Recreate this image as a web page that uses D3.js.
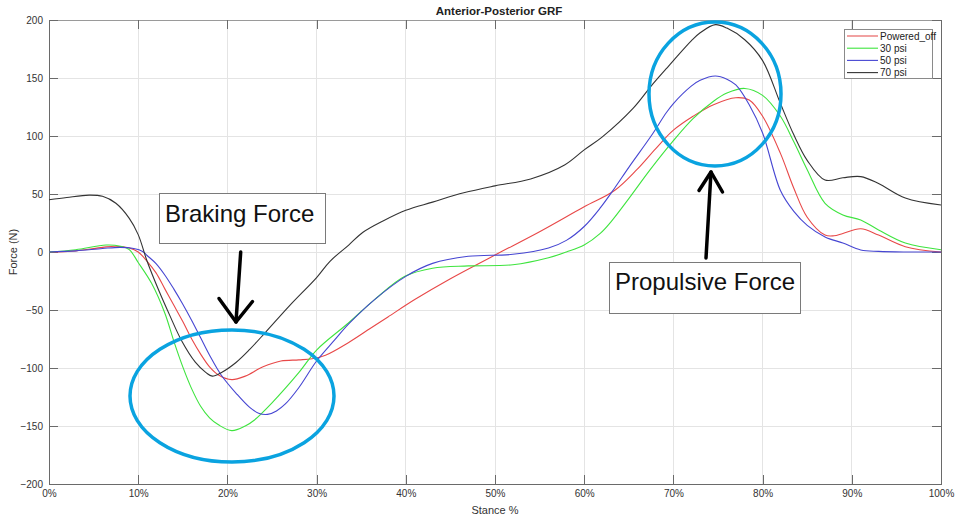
<!DOCTYPE html>
<html><head><meta charset="utf-8">
<script src="https://cdn.jsdelivr.net/npm/d3@7"></script>
<style>body{margin:0;background:#fff;}svg{display:block;font-family:"Liberation Sans",Arial,sans-serif;}</style>
</head><body>
<svg id="c" width="959" height="521"></svg>
<script>
const title = "Anterior-Posterior GRF";
const xLabel = "Stance %";
const yLabel = "Force (N)";
const xTicks = [0,10,20,30,40,50,60,70,80,90,100];
const yTicks = [-200,-150,-100,-50,0,50,100,150,200];
const seriesNames = ["Powered_off","30 psi","50 psi","70 psi"];

const offX = [0,3,6,7.5,9,10,11,12,13,14,15,16,17,18,19,20.5,22,24,26,28,29.5,31,33.6,36,38,41,45,50,55,60,63.4,65.9,68,70,72.2,74.5,77,78.5,80,82,83.5,85,87,88,89,91,93,96,100];
const offY = [0,1,4,5,3.5,0,-8,-18,-32,-46,-60,-75,-88,-99,-106,-110,-107,-99,-94,-93,-92,-89,-78,-66,-56,-41,-23,-2.6,17.5,39,53,71,89,105,117,127,133,131,117,85,55,30,14.6,14,16,20,14.6,4.6,0];

const p30X = [0,3,6.4,8,9,10,11.5,13,14,15,16,17,18,19,20.5,22,23,25,28,30,33.6,36.5,39.9,43,47,52,56,58,60,61.8,63,65,67.4,70,72.2,74.5,76,78,80,82,83.5,85,87,89,91,93,96,100];
const p30Y = [0,2,6,5,2,-9,-27,-53,-77,-99,-118,-133,-143,-149,-154,-150,-145,-130,-104,-84.5,-61,-41,-21,-14,-12,-11,-5,0,6,16,26,46,71,96,115,130,137,141,135,117,95,71,42,32,27.6,19,7.7,2];

const p50X = [0,3,6,8,9.5,10.5,11,12,13,14,15,16,17,18,19.3,21,22.5,23.5,24.5,25.5,26.5,28,30,32,33.6,36.5,40,43,47,52,56,58,60,61.8,63.4,65,67.5,69.2,70,72,73,74.7,76,77,78.5,80,82,83.5,85,87,89,91,93,96,100];
const p50Y = [0,1,3,4,3,0.5,-3,-10,-20,-32,-45,-59,-74,-89,-106,-122,-134,-139,-140,-137,-131,-117,-94,-76,-62,-41,-21,-9.8,-3.7,-2,3.4,10,22,38,55,73,100,120,128,143,148,151.7,149,144,127,102.6,53,35,23,13,7.7,1.7,0.5,0,0];

const p70X = [0,2,4.5,6,7.5,9,10,11,12.3,13.5,14.9,16.4,17.6,18.3,19.3,21,22.5,24.3,27,30,31.5,33.6,35.2,37.5,40,43,46.5,50,54,57.8,60,62,65.5,67.5,69.2,70,72,73,74.7,76,78,80,82,83.5,85,87,89,91,93,96,100];
const p70Y = [45,47,49,48,42,29,15,-8,-33,-54,-77,-95,-104,-107,-104,-95,-84,-69,-46,-22,-8,6,17,27,36,43,51,57,63,75,88,99,124,143,158,165,182,189,196,193,183,165,128,101,79,62,64,65,59,46.5,40.5];

const colors = ["#e84848","#3ee43e","#4646d2","#333333"];

const svg = d3.select("#c");
const L=49,R=941,T=20,B=484;
const x = d3.scaleLinear().domain([0,100]).range([L,R]);
const y = d3.scaleLinear().domain([-200,200]).range([B,T]);

// grid
svg.append("g").selectAll("line").data(xTicks.slice(1,-1)).join("line")
  .attr("x1",d=>x(d)).attr("x2",d=>x(d)).attr("y1",T).attr("y2",B)
  .attr("stroke","#e4e4e4").attr("stroke-width",1).attr("shape-rendering","crispEdges");
svg.append("g").selectAll("line").data(yTicks.slice(1,-1)).join("line")
  .attr("y1",d=>y(d)).attr("y2",d=>y(d)).attr("x1",L).attr("x2",R)
  .attr("stroke","#e4e4e4").attr("stroke-width",1).attr("shape-rendering","crispEdges");

// axes
const ax = "#6a6a6a";
const xb = svg.append("g").attr("transform",`translate(0,${B})`)
  .call(d3.axisBottom(x).tickValues(xTicks).tickFormat(d=>d+"%").tickSizeInner(-9).tickSizeOuter(0).tickPadding(6));
const xt = svg.append("g").attr("transform",`translate(0,${T})`)
  .call(d3.axisTop(x).tickValues(xTicks).tickFormat("").tickSizeInner(-9).tickSizeOuter(0));
const yl = svg.append("g").attr("transform",`translate(${L},0)`)
  .call(d3.axisLeft(y).tickValues(yTicks).tickSizeInner(-9).tickSizeOuter(0).tickPadding(6));
const yr = svg.append("g").attr("transform",`translate(${R},0)`)
  .call(d3.axisRight(y).tickValues(yTicks).tickFormat("").tickSizeInner(-9).tickSizeOuter(0));
[xb,xt,yl,yr].forEach(g=>{
  g.select(".domain").attr("stroke",ax).attr("shape-rendering","crispEdges");
  g.selectAll(".tick line").attr("stroke",ax).attr("shape-rendering","crispEdges");
  g.selectAll("text").attr("fill","#333").attr("font-size",10).attr("font-family","Liberation Sans, Arial, sans-serif");
});
xt.select(".domain").attr("stroke","#9a9a9a");

// lines
const line = d3.line().x(d=>x(d[0])).y(d=>y(d[1])).curve(d3.curveCatmullRom.alpha(0.5));
const sets = [[offX,offY],[p30X,p30Y],[p50X,p50Y],[p70X,p70Y]];
sets.forEach((s,i)=>{
  const pts = s[0].map((v,j)=>[v,s[1][j]]);
  svg.append("path").datum(pts).attr("d",line).attr("fill","none")
    .attr("stroke",colors[i]).attr("stroke-width",1.1);
});

// labels
svg.append("text").attr("x",499).attr("y",15).attr("text-anchor","middle")
  .attr("font-size",11.5).attr("font-weight","bold").attr("fill","#222").text(title);
svg.append("text").attr("x",495).attr("y",514).attr("text-anchor","middle")
  .attr("font-size",11).attr("fill","#333").text(xLabel);
svg.append("text").attr("transform","translate(17,252) rotate(-90)").attr("text-anchor","middle")
  .attr("font-size",11).attr("fill","#333").text(yLabel);

// legend
const lg = svg.append("g");
lg.append("rect").attr("x",844.5).attr("y",29.5).attr("width",88).attr("height",49)
  .attr("fill","#fff").attr("stroke","#8a8a8a");
const legColors = ["#ee8a8a","#7ae87a","#6a6ad8","#444"];
seriesNames.forEach((n,i)=>{
  const yy = 36 + i*12.2;
  lg.append("line").attr("x1",847).attr("x2",878).attr("y1",yy).attr("y2",yy)
    .attr("stroke",i===0?legColors[0]:colors[i]).attr("stroke-width",i===0?1.6:1.1);
  lg.append("text").attr("x",880).attr("y",yy+3.5).attr("font-size",10).attr("fill","#222").text(n);
});

// annotations
const blue = "#0aa3e0";
svg.append("ellipse").attr("cx",232).attr("cy",396).attr("rx",102).attr("ry",66)
  .attr("fill","none").attr("stroke",blue).attr("stroke-width",3.5);
svg.append("ellipse").attr("cx",715).attr("cy",94).attr("rx",66).attr("ry",72)
  .attr("fill","none").attr("stroke",blue).attr("stroke-width",3.5);

function box(x0,y0,w,h,tx,ty,t){
  svg.append("rect").attr("x",x0).attr("y",y0).attr("width",w).attr("height",h)
    .attr("fill","#fff").attr("stroke","#7a7a7a").attr("stroke-width",1);
  svg.append("text").attr("x",tx).attr("y",ty).attr("font-size",24)
    .attr("font-family","Liberation Sans, Arial, sans-serif").attr("fill","#111").text(t);
}
box(159.5,193.5,166,50,165,222,"Braking Force");
box(609.5,262.5,191,51,615,290,"Propulsive Force");

function arrow(x1,y1,x2,y2,wl,wr){
  const g = svg.append("g").attr("stroke","#000").attr("stroke-width",3.5).attr("fill","none").attr("stroke-linecap","round");
  g.append("line").attr("x1",x1).attr("y1",y1).attr("x2",x2).attr("y2",y2);
  g.append("polyline").attr("points",`${wl[0]},${wl[1]} ${x2},${y2} ${wr[0]},${wr[1]}`).attr("stroke-linejoin","round");
}
arrow(240.7,252,236,322,[219,298.5],[252.5,301.5]);
arrow(706,258,711,172,[699,190.5],[722.5,192]);
</script>
</body></html>
